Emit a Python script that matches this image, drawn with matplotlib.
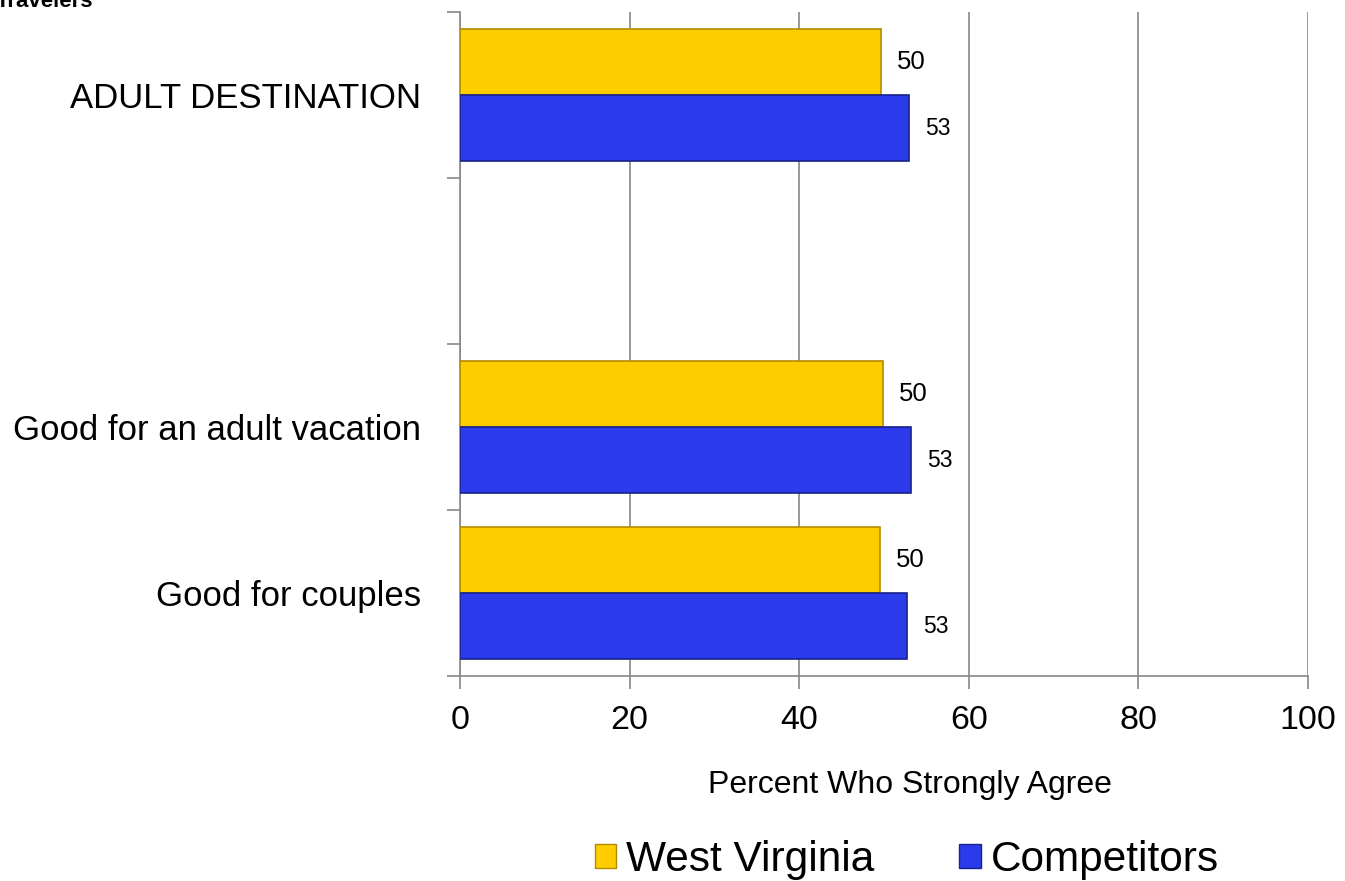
import numpy as np
import matplotlib
matplotlib.use("Agg")
import matplotlib.pyplot as plt
from matplotlib.patches import Patch

plt.rcParams['font.family'] = ['Liberation Sans', 'DejaVu Sans']

# data (empty string = empty slot in the chart)
categories = ["ADULT DESTINATION", "", "Good for an adult vacation", "Good for couples"]
west_virginia = [49.6, np.nan, 49.9, 49.5]
competitors = [52.9, np.nan, 53.2, 52.7]
wv_labels = ["50", "", "50", "50"]
comp_labels = ["53", "", "53", "53"]
x_ticks = [0, 20, 40, 60, 80, 100]

wv_color = "#FFCC00"
wv_edge = "#B08C00"
comp_color = "#2B3BEB"
comp_edge = "#18228A"

fig = plt.figure(figsize=(13.45, 8.81), dpi=100)
ax = fig.add_axes([0.342, 0.2327, 0.6305, 0.7537])

y = np.arange(len(categories))
h = 0.4
ax.barh(y - h / 2, west_virginia, height=h, color=wv_color, edgecolor=wv_edge, linewidth=1.2, zorder=3)
ax.barh(y + h / 2, competitors, height=h, color=comp_color, edgecolor=comp_edge, linewidth=1.2, zorder=3)

# value labels to the right of each bar
for i in range(len(categories)):
    if wv_labels[i]:
        ax.text(west_virginia[i] + 1.9, y[i] - h / 2, wv_labels[i], va="center", ha="left", fontsize=18.5)
    if comp_labels[i]:
        ax.text(competitors[i] + 1.9, y[i] + h / 2, comp_labels[i], va="center", ha="left", fontsize=16.5)

ax.set_xlim(0, 100)
ax.set_ylim(len(categories) - 0.5, -0.5)
ax.set_xticks(x_ticks)
ax.set_xticklabels([str(v) for v in x_ticks], fontsize=24.5)
ax.set_yticks(y)
ax.set_yticklabels(categories, fontsize=25)
ax.set_yticks(np.arange(len(categories) + 1) - 0.5, minor=True)

ax.tick_params(axis="y", which="major", length=0, pad=28)
ax.tick_params(axis="y", which="minor", length=9.5, color="#888888", width=1.2)
ax.tick_params(axis="x", which="major", length=9, color="#888888", width=1.2, pad=12)

ax.grid(axis="x", color="#888888", linewidth=1.2, zorder=0)
for s in ["top", "right"]:
    ax.spines[s].set_visible(False)
ax.spines["left"].set_color("#888888")
ax.spines["bottom"].set_color("#888888")
ax.spines["left"].set_linewidth(1.2)
ax.spines["bottom"].set_linewidth(1.2)

fig.text(910 / 1345, 1 - 785 / 881, "Percent Who Strongly Agree", fontsize=23, ha="center", va="center")

handles = [Patch(facecolor=wv_color, edgecolor=wv_edge, label="West Virginia"),
           Patch(facecolor=comp_color, edgecolor=comp_edge, label="Competitors")]
fig.legend(handles=handles, loc="center", bbox_to_anchor=(907 / 1345, 1 - 860 / 881), ncol=2, frameon=False,
           fontsize=30.5, handlelength=0.5, handleheight=0.5, handletextpad=0.25, columnspacing=2.0)

fig.text(-0.003, 1 - 7 / 881, "Travelers", fontsize=16, fontweight="bold", ha="left", va="baseline")

fig.savefig("out.png", dpi=100)
